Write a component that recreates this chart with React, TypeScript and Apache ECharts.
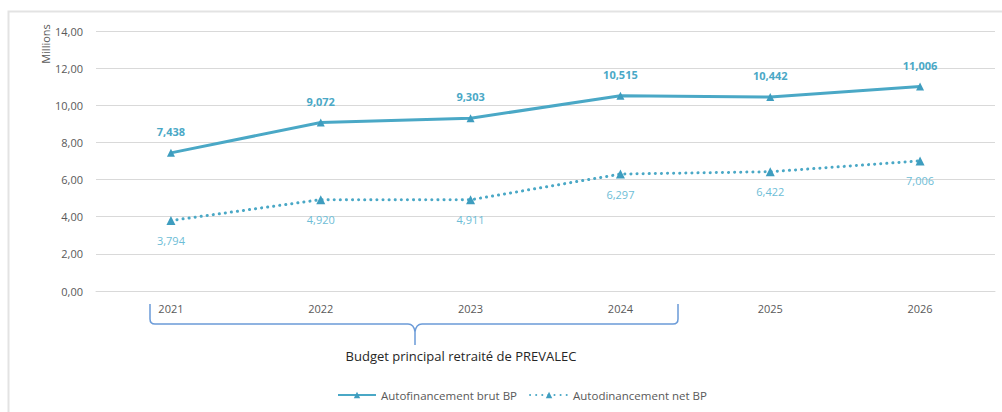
import React, { useEffect, useRef } from "react";
import * as echarts from "echarts";

const categories = ["2021", "2022", "2023", "2024", "2025", "2026"];
const brutValues = [7.438, 9.072, 9.303, 10.515, 10.442, 11.006];
const netValues = [3.794, 4.92, 4.911, 6.297, 6.422, 7.006];
const seriesNames = ["Autofinancement brut BP", "Autodinancement net BP"];
const axisTitle = "Millions";
const bracketLabel = "Budget principal retraité de PREVALEC";

const fmt = (v: number, d: number) => v.toFixed(d).replace(".", ",");

const BRACE =
  "M0,0 L0,15 Q0,20 5,20 L258,20 Q264,20 265,28 L265,41 M265,28 Q266,20 272,20 L523,20 Q528,20 528,15 L528,0";

export default function App() {
  const ref = useRef<HTMLDivElement>(null);
  useEffect(() => {
    document.body.style.margin = "0";
    echarts.graphic.registerShape("brace", echarts.graphic.extendPath(BRACE, {}) as any);
    const chart = echarts.init(ref.current!, null, { renderer: "svg" });
    const font = "'Open Sans', 'Liberation Sans', sans-serif";
    const color = "#4aa8c6";
    chart.setOption({
      animation: false,
      textStyle: { fontFamily: font },
      grid: { left: 96, right: 7, top: 31, bottom: 121, containLabel: false },
      xAxis: {
        type: "category",
        data: categories,
        boundaryGap: true,
        axisLine: { show: true, lineStyle: { color: "#d9d9d9", width: 1 } },
        axisTick: { show: false },
        axisLabel: { color: "#595959", fontSize: 11, margin: 12 },
      },
      yAxis: {
        type: "value",
        min: 0,
        max: 14,
        interval: 2,
        axisLine: { show: false },
        axisTick: { show: false },
        splitLine: { lineStyle: { color: "#d9d9d9", width: 1 } },
        axisLabel: { color: "#595959", fontSize: 11, margin: 13, formatter: (v: number) => fmt(v, 2) },
      },
      legend: {
        bottom: 6,
        left: 332,
        itemWidth: 38,
        itemHeight: 8,
        itemGap: 12,
        textStyle: { color: "#595959", fontSize: 11.5, fontFamily: font },
        data: seriesNames,
      },
      series: [
        {
          name: seriesNames[0],
          type: "line",
          data: brutValues,
          symbol: "triangle",
          symbolSize: 8,
          itemStyle: { color: "#3e9dbf" },
          lineStyle: { color, width: 3 },
          label: {
            show: true,
            position: "top",
            distance: 12,
            color: "#4aa8c6",
            fontWeight: "bold",
            fontSize: 11,
            formatter: (p: any) => fmt(p.value, 3),
          },
        },
        {
          name: seriesNames[1],
          type: "line",
          data: netValues,
          symbol: "triangle",
          symbolSize: 9,
          itemStyle: { color: "#3e9dbf" },
          lineStyle: { color, width: 3, type: [0.1, 6], cap: "round" },
          label: {
            show: true,
            position: "bottom",
            distance: 10,
            color: "#6dbdd6",
            fontSize: 11,
            formatter: (p: any) => fmt(p.value, 3),
          },
        },
      ],
      graphic: [
        {
          type: "rect",
          silent: true,
          shape: { x: 8.5, y: 11.5, width: 1010, height: 420 },
          style: { fill: "none", stroke: "#e3e3e3", lineWidth: 2 },
          z: -10,
        },
        {
          type: "text",
          x: 45,
          y: 44,
          rotation: Math.PI / 2,
          style: {
            text: axisTitle,
            fill: "#595959",
            font: `11px ${font}`,
            align: "center",
            verticalAlign: "middle",
          },
        },
        {
          type: "brace",
          x: 150,
          y: 304,
          style: { fill: "none", stroke: "#6b9bd8", lineWidth: 1.5 },
        },
        {
          type: "text",
          x: 461,
          y: 356,
          style: {
            text: bracketLabel,
            fill: "#262626",
            font: `13px ${font}`,
            align: "center",
            verticalAlign: "middle",
          },
        },
      ],
    });
    return () => chart.dispose();
  }, []);
  return <div ref={ref} style={{ width: 1002, height: 412 }} />;
}
